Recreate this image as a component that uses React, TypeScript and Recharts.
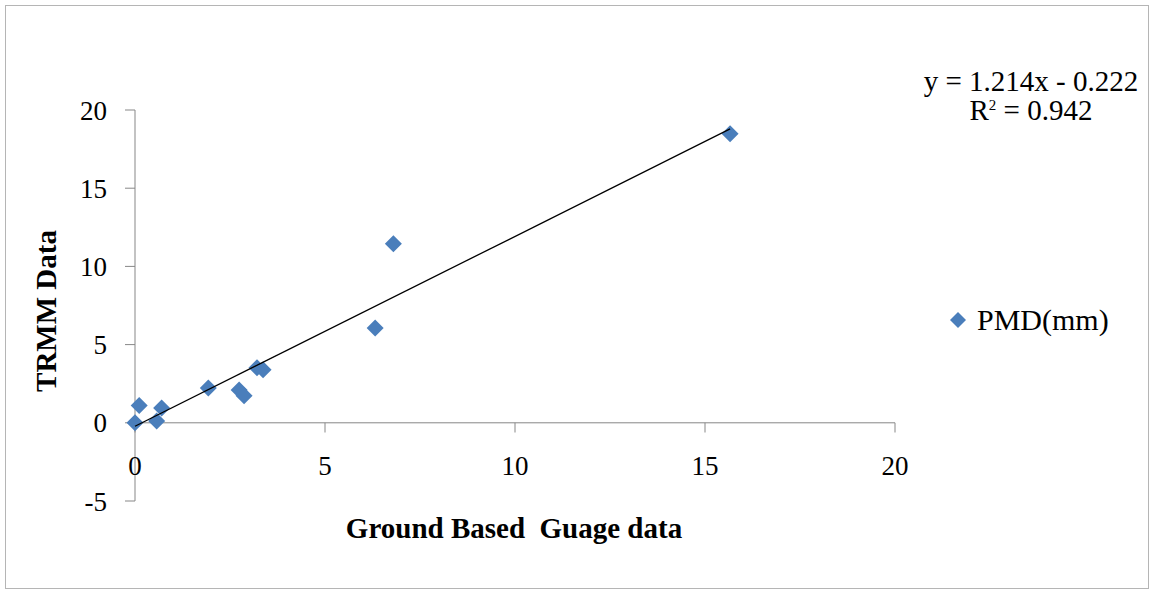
import { ScatterChart, Scatter, XAxis, YAxis, ReferenceLine, Legend } from 'recharts';

const PMD_BLUE = '#4a7ebb';
const AXIS_GRAY = '#878787';
const SERIF = '"Liberation Serif", "Times New Roman", serif';

// ground gauge (x) vs TRMM (y)
const GAUGE_MM = [0, 0.11, 0.57, 0.7, 1.93, 2.74, 2.87, 3.21, 3.37, 6.32, 6.8, 15.66];
const TRMM_MM = [0, 1.11, 0.11, 0.94, 2.22, 2.1, 1.73, 3.52, 3.39, 6.06, 11.45, 18.48];

const X_TICKS = [0, 5, 10, 15, 20];
const Y_TICKS = [-5, 0, 5, 10, 15, 20];

// linear fit printed on the chart
const SLOPE = 1.214;
const INTERCEPT = -0.222;
const TREND_X = [0, 15.66];

const points = GAUGE_MM.map((x, i) => ({ x, y: TRMM_MM[i] }));
const trend = TREND_X.map(x => ({ x, y: SLOPE * x + INTERCEPT }));

const TICK_LEN = 0.62; // in y units, ~10px

const Diamond = (props: { cx?: number; cy?: number }) => {
  const { cx, cy } = props;
  if (cx === undefined || cy === undefined) return null;
  const r = 8.5;
  return (
    <polygon
      points={`${cx},${cy - r} ${cx + r},${cy} ${cx},${cy + r} ${cx - r},${cy}`}
      fill={PMD_BLUE}
    />
  );
};

const LegendBox = () => (
  <div style={{ display: 'flex', alignItems: 'center', fontFamily: SERIF, fontSize: 30, color: '#000' }}>
    <svg width={18} height={18} style={{ marginRight: 10 }}>
      <polygon points="9,1 17,9 9,17 1,9" fill={PMD_BLUE} />
    </svg>
    <span>PMD(mm)</span>
  </div>
);

export default function App() {
  return (
    <div style={{ position: 'absolute', left: 0, top: 0, width: 1154, height: 591, background: '#fff' }}>
      <div
        style={{
          position: 'absolute',
          left: 5,
          top: 5,
          width: 1142,
          height: 582,
          border: '1.5px solid #b5b5b5',
        }}
      />
      <ScatterChart width={1154} height={591} margin={{ top: 110, right: 259, bottom: 90, left: 0 }}>
        <XAxis type="number" dataKey="x" domain={[0, 20]} ticks={X_TICKS} hide />
        <YAxis
          type="number"
          dataKey="y"
          domain={[-5, 20]}
          ticks={Y_TICKS}
          width={135}
          tickSize={10}
          tickMargin={18}
          stroke={AXIS_GRAY}
          tick={{ fill: '#000', fontSize: 27, fontFamily: SERIF }}
        />
        <ReferenceLine y={0} stroke={AXIS_GRAY} strokeWidth={1} />
        {X_TICKS.map(t => (
          <ReferenceLine
            key={t}
            segment={[
              { x: t, y: 0 },
              { x: t, y: -TICK_LEN },
            ]}
            stroke={AXIS_GRAY}
            label={{ value: t, position: 'bottom', offset: 23, fill: '#000', fontSize: 27, fontFamily: SERIF }}
          />
        ))}
        <Scatter
          name="PMD(mm)"
          data={points}
          shape={<Diamond />}
          isAnimationActive={false}
        />
        <Scatter
          name="trend"
          data={trend}
          legendType="none"
          line={{ stroke: '#000', strokeWidth: 1.3 }}
          shape={() => <g />}
          isAnimationActive={false}
        />
        <Legend
          layout="horizontal"
          align="center"
          verticalAlign="middle"
          content={<LegendBox />}
          wrapperStyle={{ left: 949, top: 303, width: 200 }}
        />
      </ScatterChart>

      <div
        style={{
          position: 'absolute',
          left: 46,
          top: 311,
          transform: 'translate(-50%, -50%) rotate(-90deg)',
          whiteSpace: 'nowrap',
          fontFamily: SERIF,
          fontWeight: 'bold',
          fontSize: 29,
        }}
      >
        TRMM Data
      </div>
      <div
        style={{
          position: 'absolute',
          left: 514,
          top: 528,
          transform: 'translate(-50%, -50%)',
          whiteSpace: 'pre',
          fontFamily: SERIF,
          fontWeight: 'bold',
          fontSize: 29,
        }}
      >
        {'Ground Based  Guage data'}
      </div>
      <div
        style={{
          position: 'absolute',
          left: 1031,
          top: 96,
          transform: 'translate(-50%, -50%)',
          whiteSpace: 'nowrap',
          textAlign: 'center',
          fontFamily: SERIF,
          fontSize: 29,
          lineHeight: '29px',
        }}
      >
        <div>y = 1.214x - 0.222</div>
        <div>
          R<sup style={{ fontSize: 15, verticalAlign: 'top', lineHeight: '18px' }}>2</sup> = 0.942
        </div>
      </div>
    </div>
  );
}
